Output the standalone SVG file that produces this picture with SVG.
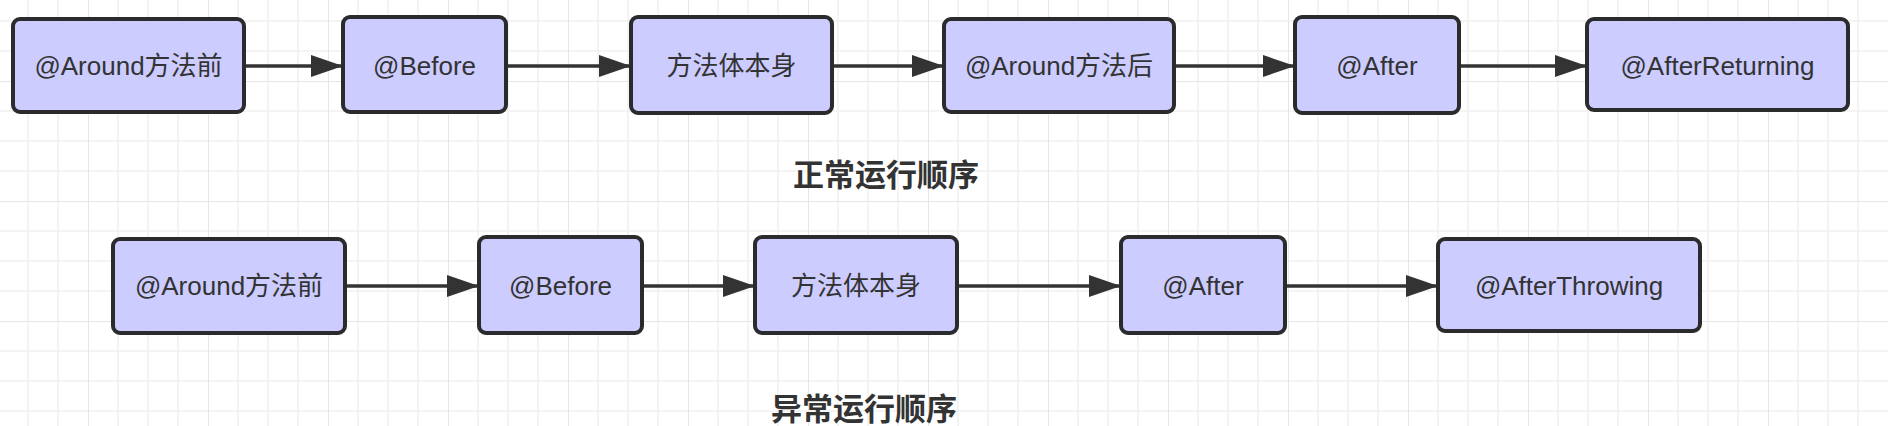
<svg xmlns="http://www.w3.org/2000/svg" width="1888" height="426" viewBox="0 0 1888 426">
<defs>
<style>
.node rect{fill:#ccccff;stroke:#2b2b2e;stroke-width:4}
.node text{font-family:"Liberation Sans","Noto Sans CJK SC",sans-serif;font-size:26px;fill:#333;text-anchor:middle}
.title{font-family:"Noto Sans CJK SC",sans-serif;font-size:31px;font-weight:bold;fill:#333;text-anchor:middle}
.edge{stroke:#333;stroke-width:3.5;fill:none;marker-end:url(#arr)}
</style>
<marker id="arr" viewBox="0 0 32 22" refX="32" refY="11" markerWidth="32" markerHeight="22" markerUnits="userSpaceOnUse" orient="auto">
<path d="M0,0 L32,11 L0,22 Z" fill="#333"/>
</marker>
<pattern id="grid" patternUnits="userSpaceOnUse" x="88" y="81" width="120" height="120">
<path d="M30,0V120M60,0V120M90,0V120M0,30H120M0,60H120M0,90H120" stroke="#f1f1f1" stroke-width="1.5"/>
<path d="M0,0V120M0,0H120" stroke="#e6e6e6" stroke-width="2"/>
</pattern>
</defs>
<rect width="1888" height="426" fill="#ffffff"/>
<rect width="1888" height="426" fill="url(#grid)"/>
<g id="connectors">
<line class="edge" x1="244" y1="66" x2="343" y2="66"/>
<line class="edge" x1="506" y1="66" x2="631" y2="66"/>
<line class="edge" x1="832" y1="66" x2="944" y2="66"/>
<line class="edge" x1="1174" y1="66" x2="1295" y2="66"/>
<line class="edge" x1="1459" y1="66" x2="1587" y2="66"/>
<line class="edge" x1="345" y1="286" x2="479" y2="286"/>
<line class="edge" x1="642" y1="286" x2="755" y2="286"/>
<line class="edge" x1="957" y1="286" x2="1121" y2="286"/>
<line class="edge" x1="1285" y1="286" x2="1438" y2="286"/>
</g>
<g id="n1" class="node"><rect x="13" y="19" width="231" height="93" rx="7"/><text x="128.5" y="75">@Around方法前</text></g>
<g id="n2" class="node"><rect x="343" y="17" width="163" height="95" rx="7"/><text x="424.5" y="75">@Before</text></g>
<g id="n3" class="node"><rect x="631" y="17" width="201" height="96" rx="7"/><text x="731.5" y="75">方法体本身</text></g>
<g id="n4" class="node"><rect x="944" y="19" width="230" height="93" rx="7"/><text x="1059" y="75">@Around方法后</text></g>
<g id="n5" class="node"><rect x="1295" y="17" width="164" height="96" rx="7"/><text x="1377" y="75">@After</text></g>
<g id="n6" class="node"><rect x="1587" y="19" width="261" height="91" rx="7"/><text x="1717.5" y="75">@AfterReturning</text></g>
<g id="t1"><text class="title" x="886" y="186">正常运行顺序</text></g>
<g id="m1" class="node"><rect x="113" y="239" width="232" height="94" rx="7"/><text x="229" y="295">@Around方法前</text></g>
<g id="m2" class="node"><rect x="479" y="237" width="163" height="96" rx="7"/><text x="560.5" y="295">@Before</text></g>
<g id="m3" class="node"><rect x="755" y="237" width="202" height="96" rx="7"/><text x="856" y="295">方法体本身</text></g>
<g id="m4" class="node"><rect x="1121" y="237" width="164" height="96" rx="7"/><text x="1203" y="295">@After</text></g>
<g id="m5" class="node"><rect x="1438" y="239" width="262" height="92" rx="7"/><text x="1569" y="295">@AfterThrowing</text></g>
<g id="t2"><text class="title" x="864" y="420">异常运行顺序</text></g>
</svg>
